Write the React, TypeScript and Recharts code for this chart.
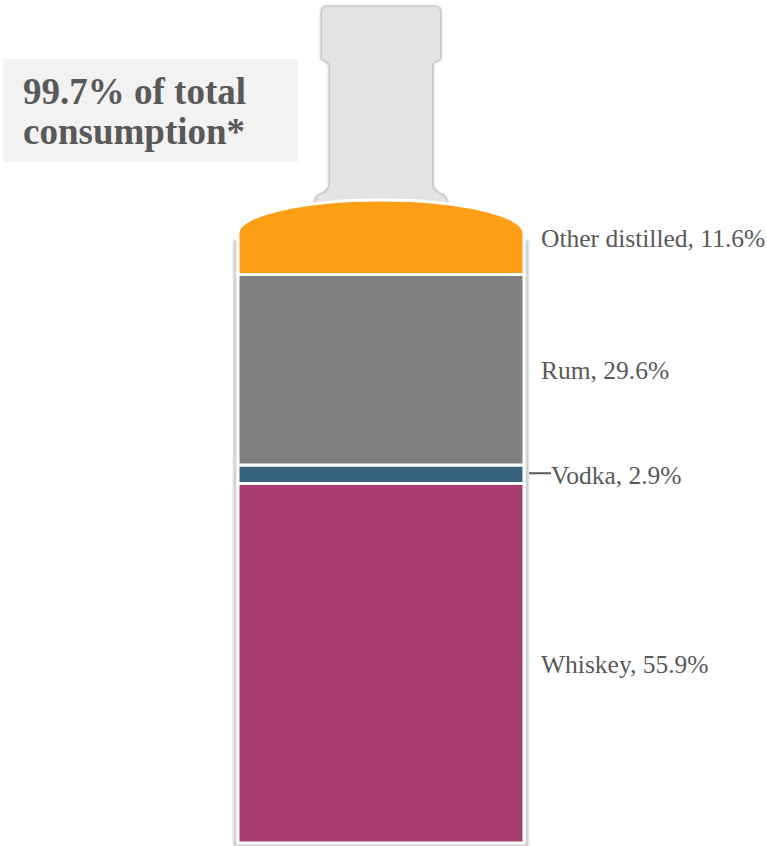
import { Bar, BarChart, ReferenceArea, XAxis, YAxis } from 'recharts';

// data
const CATEGORIES = ['Whiskey', 'Vodka', 'Rum', 'Other distilled'];
const SHARES = [55.9, 2.9, 29.6, 11.6];
const COLORS = ['#a63c6f', '#35647c', '#7f7f7f', '#fd9e17'];
const TITLE_LINES = ['99.7% of total', 'consumption*'];

const DATA = [
  CATEGORIES.reduce<Record<string, number | string>>(
    (row, c, i) => {
      row[c] = SHARES[i];
      return row;
    },
    { name: 'Spirits' },
  ),
];

const TEXT_COLOR = '#595959';
const FONT = '"Liberation Serif", "Times New Roman", serif';

// bottle outline drawn around the plot area
function Bottle(props: any) {
  const { x, y, width, height } = props;
  const cx = x + width / 2;
  const T = y;
  const neck = [
    `M ${cx - 66} ${T + 2}`,
    `L ${cx - 63} ${T - 4}`,
    `Q ${cx - 51} ${T - 8} ${cx - 51} ${T - 16}`,
    `L ${cx - 51} ${T - 134}`,
    `Q ${cx - 51} ${T - 138} ${cx - 59} ${T - 141}`,
    `L ${cx - 59} ${T - 188}`,
    `Q ${cx - 59} ${T - 193} ${cx - 54} ${T - 193}`,
    `L ${cx + 54} ${T - 193}`,
    `Q ${cx + 59} ${T - 193} ${cx + 59} ${T - 188}`,
    `L ${cx + 59} ${T - 141}`,
    `Q ${cx + 51} ${T - 138} ${cx + 51} ${T - 134}`,
    `L ${cx + 51} ${T - 16}`,
    `Q ${cx + 51} ${T - 8} ${cx + 63} ${T - 4}`,
    `L ${cx + 66} ${T + 2}`,
    'Z',
  ].join(' ');
  const left = x - 3;
  const right = x + width + 3;
  const bottom = y + height + 2;
  const body = `M ${left} ${T + 40} L ${left} ${bottom} L ${right} ${bottom} L ${right} ${T + 40}`;
  return (
    <g>
      <defs>
        <filter id="soft" x="-10%" y="-10%" width="120%" height="120%">
          <feGaussianBlur stdDeviation="1" />
        </filter>
      </defs>
      <path d={body} fill="none" stroke="#c4c4c4" strokeWidth={3} filter="url(#soft)" />
      <path d={neck} fill="#e3e3e3" stroke="#b8b8b8" strokeWidth={3} strokeLinejoin="round" filter="url(#soft)" />
      <path d={neck} fill="#e3e3e3" stroke="none" />
    </g>
  );
}

// orange top with rounded (elliptical) cap
function CapShape(props: any) {
  const { x, y, width, height, fill } = props;
  const ry = 33;
  const d = `M ${x} ${y + height} L ${x} ${y + ry} A ${width / 2} ${ry} 0 0 1 ${x + width} ${y + ry} L ${x + width} ${y + height} Z`;
  return <path d={d} fill={fill} stroke="#fff" strokeWidth={3} />;
}

function makeLabel(name: string, share: number, leader: boolean) {
  return (props: any) => {
    const { x, y, width, height } = props;
    const lx = x + width + 17;
    const cy = y + height / 2 + 1;
    return (
      <g>
        {leader && (
          <line x1={x + width + 5} x2={x + width + 27} y1={cy - 2} y2={cy - 2} stroke={TEXT_COLOR} strokeWidth={2} />
        )}
        <text
          x={leader ? x + width + 27 : lx}
          y={cy}
          dominantBaseline="central"
          fill={TEXT_COLOR}
          fontFamily={FONT}
          fontSize={25.5}
        >
          {`${name}, ${share}%`}
        </text>
      </g>
    );
  };
}

export default function App() {
  return (
    <div style={{ position: 'absolute', left: 0, top: 0, width: 767, height: 846, background: '#fff' }}>
      <BarChart
        width={767}
        height={846}
        data={DATA}
        margin={{ top: 200, right: 243, bottom: 3, left: 238 }}
        barCategoryGap={0}
      >
        <XAxis dataKey="name" hide />
        <YAxis hide domain={[0, 100]} type="number" />
        <ReferenceArea y1={0} y2={100} shape={Bottle} ifOverflow="visible" />
        {CATEGORIES.map((c, i) => (
          <Bar
            key={c}
            dataKey={c}
            stackId="s"
            fill={COLORS[i]}
            stroke="#fff"
            strokeWidth={3}
            isAnimationActive={false}
            shape={i === CATEGORIES.length - 1 ? CapShape : undefined}
            label={makeLabel(c, SHARES[i], c === 'Vodka')}
          />
        ))}
      </BarChart>
      <div
        style={{
          position: 'absolute',
          left: 3,
          top: 59,
          width: 295,
          height: 103,
          background: '#f2f2f2',
          boxSizing: 'border-box',
          padding: '13px 0 0 20px',
          fontFamily: FONT,
          fontWeight: 'bold',
          fontSize: 37,
          lineHeight: '40px',
          color: TEXT_COLOR,
        }}
      >
        {TITLE_LINES.map((l) => (
          <div key={l}>{l}</div>
        ))}
      </div>
    </div>
  );
}
